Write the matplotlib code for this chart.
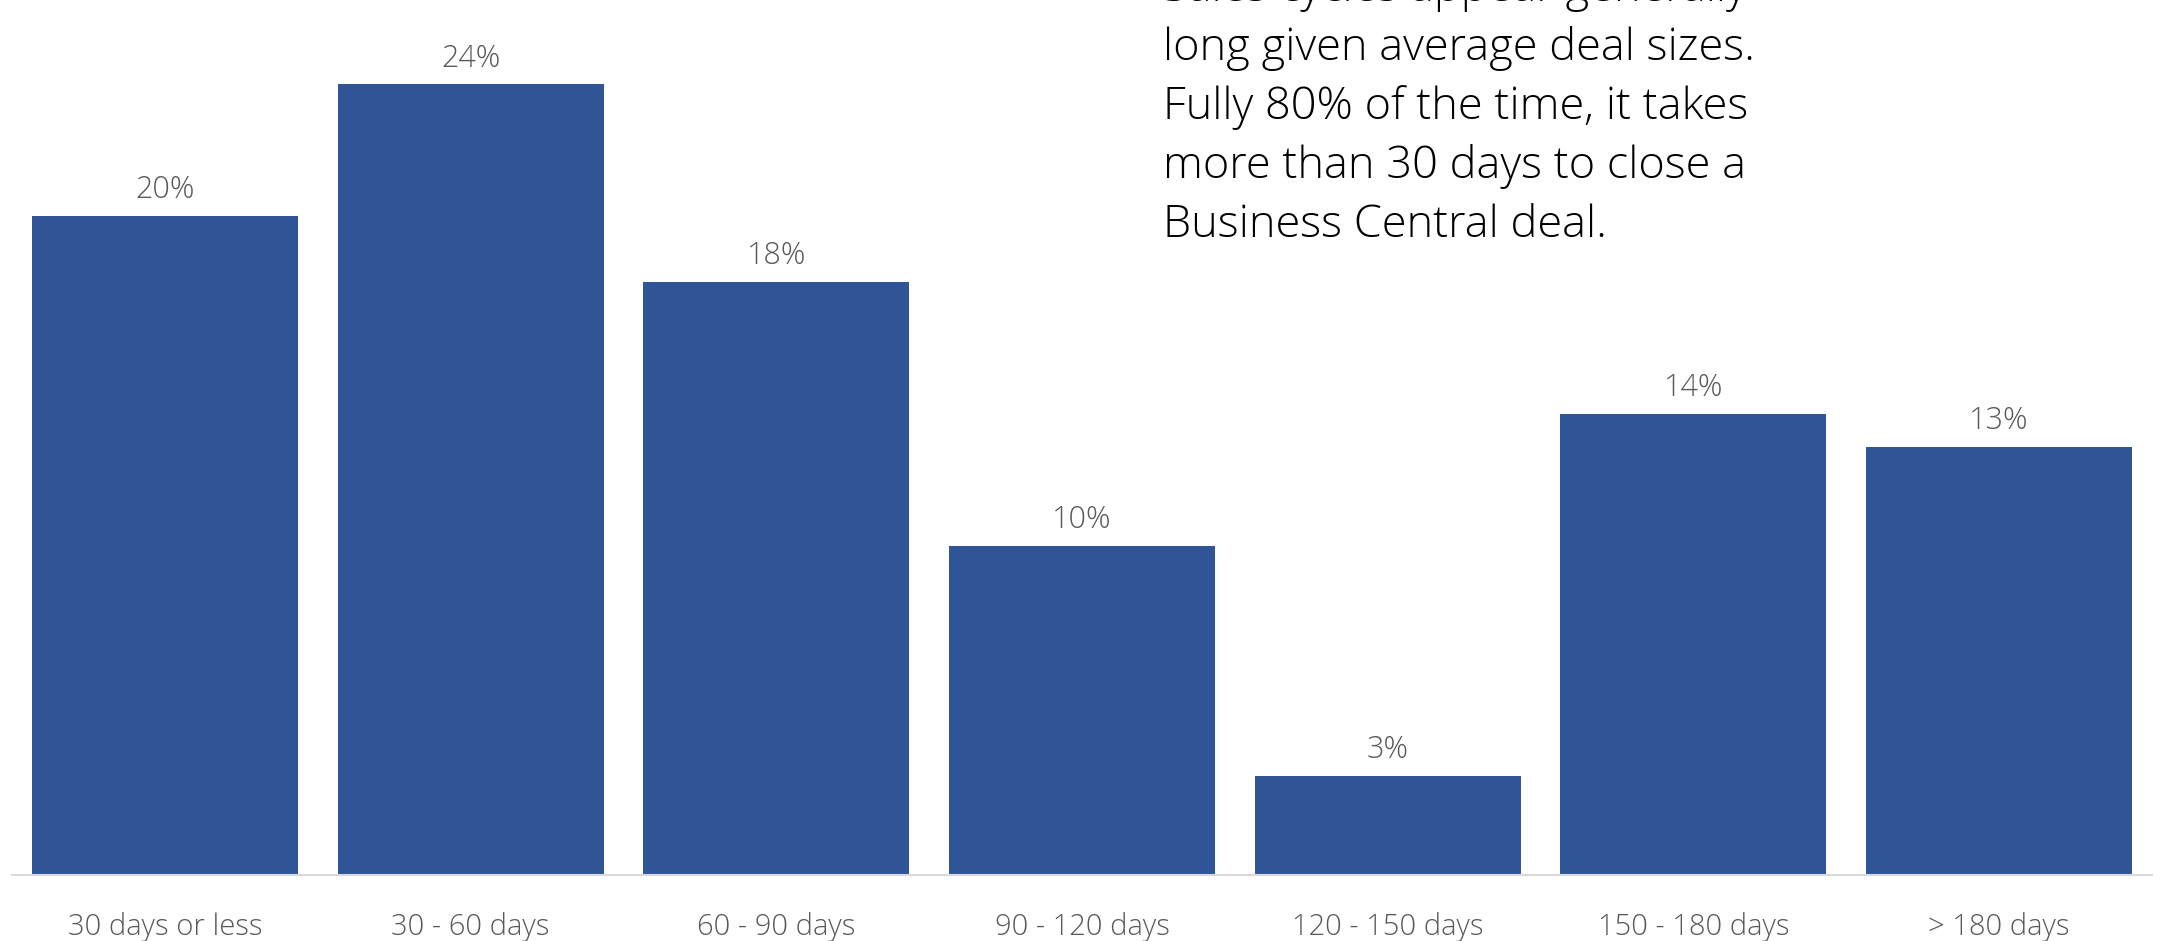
import matplotlib
matplotlib.use('Agg')
from matplotlib import pyplot as plt

categories = ['30 days or less', '30 - 60 days', '60 - 90 days', '90 - 120 days',
              '120 - 150 days', '150 - 180 days', '> 180 days']
shares = [20, 24, 18, 10, 3, 14, 13]
note_lines = ['Sales cycles appear generally',
              'long given average deal sizes.',
              'Fully 80% of the time, it takes',
              'more than 30 days to close a',
              'Business Central deal.']

bar_color = '#2F5597'
label_grey = '#595959'
plt.rcParams['font.family'] = ['Open Sans', 'DejaVu Sans']

fig = plt.figure(figsize=(21.61, 9.41), dpi=100)
ax = fig.add_axes([12 / 2161, 66 / 941, 2140 / 2161, 875 / 941])

bars = ax.bar(range(len(categories)), shares, width=0.87, color=bar_color)
ax.bar_label(bars, labels=[f'{v}%' for v in shares], padding=7,
             fontsize=22, color=label_grey, fontweight='light')

ax.set_xlim(-0.5, len(categories) - 0.5)
ax.set_ylim(0, 26.56)
ax.set_xticks(range(len(categories)))
ax.set_xticklabels(categories, fontsize=21, color=label_grey, fontweight='light')
ax.tick_params(axis='x', length=0, pad=27)
ax.set_yticks([])

for side in ['top', 'left', 'right']:
    ax.spines[side].set_visible(False)
ax.spines['bottom'].set_color('#D9D9D9')
ax.spines['bottom'].set_linewidth(1.5)

# commentary block in the upper right, first line runs off the top
ax.text(1163 / 2161, 1 - 237 / 941, '\n'.join(note_lines),
        transform=fig.transFigure, ha='left', va='baseline',
        fontsize=32.5, color='black', fontweight='light', linespacing=1.42)

fig.savefig('out.png', dpi=100)
